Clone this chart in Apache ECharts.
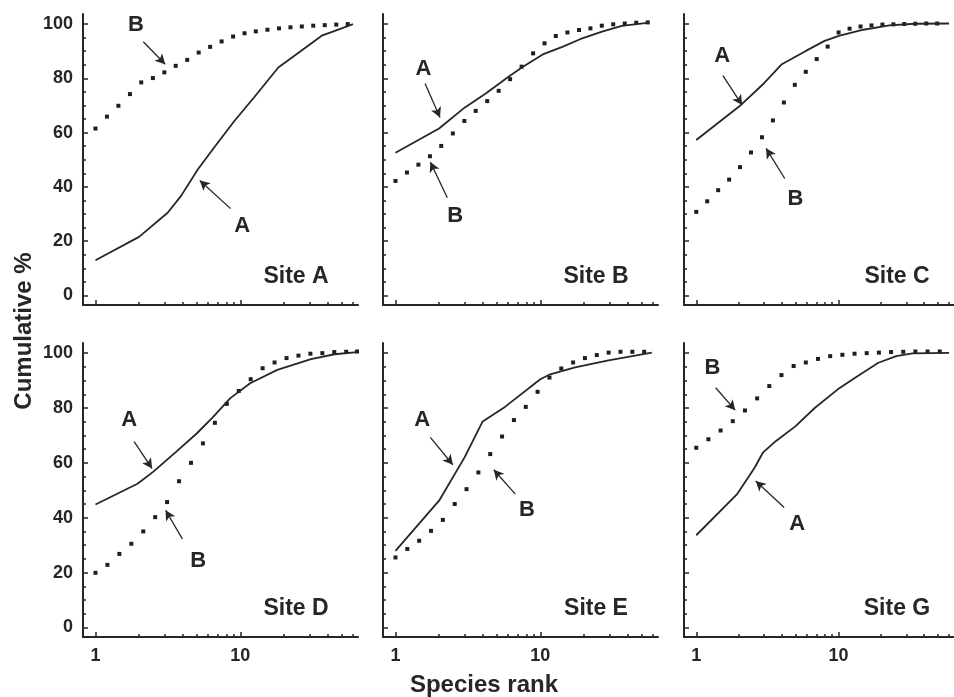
<!DOCTYPE html>
<html><head><meta charset="utf-8">
<script src="https://cdn.jsdelivr.net/npm/echarts@6/dist/echarts.min.js"></script>
<style>html,body{margin:0;padding:0;background:#fff}#c{width:954px;height:697px}</style>
</head><body><div id="c"></div>
<script>
// ---------- data ----------
const siteNames = ['Site A', 'Site B', 'Site C', 'Site D', 'Site E', 'Site G'];
const xTickValues = [1, 2, 3, 4, 5, 6, 7, 8, 9, 10, 20, 30, 40, 50, 60];
const xLabelValues = [1, 10];
const yTickValues = [0, 5, 10, 15, 20, 25, 30, 35, 40, 45, 50, 55, 60, 65, 70, 75, 80, 85, 90, 95, 100];
const yLabelValues = [0, 20, 40, 60, 80, 100];

// Site A
const siteA_rankA = [1, 2, 3.15, 3.9, 5.1, 6.6, 9.1, 12.6, 18.3, 25.8, 36.5, 45, 60];
const siteA_cumA  = [13.0, 21.6, 30.5, 36.7, 46.5, 54.5, 64.3, 73.3, 84.0, 89.8, 95.7, 97.5, 100];
const siteA_rankB = [1, 1.2, 1.44, 1.73, 2.07, 2.49, 2.99, 3.58, 4.3, 5.16, 6.19, 7.43, 8.92, 10.7, 12.8, 15.4, 18.5, 22.2, 26.6, 31.9, 38.3, 46, 55.2];
const siteA_cumB  = [61.5, 65.9, 69.9, 74.2, 78.5, 80.1, 82.2, 84.6, 86.8, 89.5, 91.6, 93.6, 95.4, 96.6, 97.3, 97.9, 98.4, 98.8, 99.1, 99.4, 99.6, 99.8, 100];
// Site B
const siteB_rankA = [1, 2, 3, 4.2, 6.1, 7.6, 10.4, 14.2, 19, 26.7, 36.6, 56.7];
const siteB_cumA  = [52.6, 61.5, 69.2, 74.4, 80.8, 84.3, 88.8, 91.6, 94.5, 97.2, 99.3, 100.5];
const siteB_rankB = [1, 1.2, 1.44, 1.73, 2.07, 2.49, 2.99, 3.58, 4.3, 5.16, 6.19, 7.43, 8.92, 10.7, 12.8, 15.4, 18.5, 22.2, 26.6, 31.9, 38.3, 46, 55.2];
const siteB_cumB  = [42.2, 45.3, 48.2, 51.3, 55.1, 59.7, 64.3, 68.0, 71.6, 75.4, 79.7, 84.3, 89.2, 92.9, 95.6, 96.9, 97.8, 98.4, 99.4, 99.9, 100.2, 100.5, 100.6];
// Site C
const siteC_rankA = [1, 2, 3, 4, 5.9, 8, 10.2, 15, 22.8, 34.5, 60];
const siteC_cumA  = [57.3, 69.6, 78.2, 85.2, 90.1, 93.8, 95.7, 97.9, 99.5, 100.1, 100.2];
const siteC_rankB = [1, 1.194, 1.426, 1.703, 2.033, 2.428, 2.899, 3.461, 4.133, 4.935, 5.893, 7.036, 8.401, 10.03, 11.98, 14.3, 17.08, 20.39, 24.35, 29.07, 34.71, 41.45, 49.49];
const siteC_cumB  = [30.8, 34.7, 38.8, 42.7, 47.3, 52.7, 58.3, 64.5, 71.1, 77.6, 82.4, 87.1, 91.7, 96.9, 98.3, 99.1, 99.5, 99.8, 99.9, 100, 100.1, 100.2, 100.2];
// Site D
const siteD_rankA = [1, 1.95, 2.5, 3.6, 5, 6.5, 8.5, 11.7, 18, 30.8, 44.8, 64];
const siteD_cumA  = [44.8, 52.4, 56.7, 64.0, 70.7, 76.8, 83.5, 89.0, 93.9, 97.8, 99.6, 100.4];
const siteD_rankB = [1, 1.209, 1.462, 1.768, 2.137, 2.584, 3.124, 3.777, 4.567, 5.521, 6.676, 8.07, 9.76, 11.8, 14.27, 17.25, 20.86, 25.22, 30.49, 36.86, 44.57, 53.88, 64];
const siteD_cumB  = [19.9, 22.8, 26.8, 30.5, 35.0, 40.2, 45.7, 53.3, 60.0, 67.1, 74.6, 81.5, 86.2, 90.5, 94.5, 96.6, 98.2, 99.1, 99.8, 100, 100.4, 100.5, 100.6];
// Site E
const siteE_rankA = [1, 2, 3, 4, 5.7, 10, 11.7, 17.4, 29.6, 58.9];
const siteE_cumA  = [27.9, 46.2, 62.0, 75.1, 80.4, 90.5, 92.3, 94.8, 97.4, 100.2];
const siteE_rankB = [1, 1.207, 1.457, 1.759, 2.124, 2.564, 3.095, 3.737, 4.511, 5.446, 6.574, 7.936, 9.58, 11.57, 13.96, 16.85, 20.34, 24.56, 29.65, 35.79, 43.21, 52.16];
const siteE_cumB  = [25.5, 28.6, 31.6, 35.2, 39.2, 45.0, 50.4, 56.5, 63.2, 69.6, 75.6, 80.4, 85.9, 91.1, 94.4, 96.6, 98.2, 99.3, 100.2, 100.5, 100.5, 100.5];
// Site G
const siteG_rankA = [1, 1.93, 2.58, 2.94, 3.64, 5, 6.84, 9.9, 13.6, 19.1, 25.5, 33.2, 60];
const siteG_cumA  = [33.6, 48.5, 58.3, 63.7, 68.0, 73.4, 80.1, 86.8, 91.6, 96.5, 98.9, 99.9, 100.1];
const siteG_rankB = [1, 1.218, 1.483, 1.807, 2.2, 2.68, 3.264, 3.976, 4.842, 5.898, 7.184, 8.75, 10.66, 12.98, 15.81, 19.26, 23.45, 28.57, 34.79, 42.38, 51.6];
const siteG_cumB  = [65.5, 68.6, 71.8, 75.2, 79.1, 83.5, 88.0, 92.0, 95.3, 96.6, 97.9, 98.9, 99.4, 99.8, 100, 100.2, 100.4, 100.5, 100.6, 100.6, 100.6];

// annotation letters [text, rank, cum] and arrows [fromRank, fromCum, toRank, toCum]
const letterNotes = [
  [['B', 1.90, 99.6], ['A', 10.3, 25.8]],
  [['A', 1.56, 83.6], ['B', 2.58, 29.2]],
  [['A', 1.52, 88.1], ['B', 4.98, 35.7]],
  [['A', 1.71, 75.6], ['B', 5.12, 24.4]],
  [['A', 1.53, 75.7], ['B', 8.09, 42.8]],
  [['B', 1.30, 94.7], ['A', 5.12, 37.6]]
];
const arrowNotes = [
  [[2.14, 93.5, 3.03, 85.2], [8.57, 32.0, 5.25, 42.4]],
  [[1.60, 78.1, 2.03, 65.6], [2.28, 36.0, 1.74, 49.2]],
  [[1.54, 81.0, 2.10, 70.2], [4.19, 43.1, 3.10, 54.2]],
  [[1.85, 67.7, 2.46, 57.9], [3.98, 32.3, 3.05, 42.7]],
  [[1.74, 69.3, 2.49, 59.3], [6.72, 48.6, 4.77, 57.5]],
  [[1.37, 87.4, 1.88, 79.2], [4.15, 43.7, 2.62, 53.4]]
];

const panelLines = [
  [siteA_rankA, siteA_cumA, siteA_rankB, siteA_cumB],
  [siteB_rankA, siteB_cumA, siteB_rankB, siteB_cumB],
  [siteC_rankA, siteC_cumA, siteC_rankB, siteC_cumB],
  [siteD_rankA, siteD_cumA, siteD_rankB, siteD_cumB],
  [siteE_rankA, siteE_cumA, siteE_rankB, siteE_cumB],
  [siteG_rankA, siteG_cumA, siteG_rankB, siteG_cumB]
];

// ---------- layout & style ----------
const INK = '#262626';
const FONT = '"Liberation Sans", Arial, sans-serif';
const colLeft = [83, 383, 684];
const rowTop = [14, 343];
const rowH = [291, 294];
const panelW = 275;
const X_MIN = 0.82, X_MAX = 65, Y_MIN = -3.5, Y_MAX = 103.7;

const zip = (xs, ys) => xs.map((x, i) => [x, ys[i]]);

const grid = [], xAxis = [], yAxis = [], series = [], graphic = [];

siteNames.forEach((name, i) => {
  const row = Math.floor(i / 3), col = i % 3;
  const left = colLeft[col], top = rowTop[row], h = rowH[row];
  grid.push({ left: left, top: top, width: panelW, height: h, containLabel: false });
  const ax = 2 * i;
  const showX = row === 1, showY = col === 0;
  // main x axis
  xAxis.push({
    type: 'log', gridIndex: i, position: 'bottom', offset: 0, min: X_MIN, max: X_MAX, logBase: 10,
    axisLine: { show: true, onZero: false, lineStyle: { color: INK, width: 2 } },
    axisTick: { show: true, inside: true, length: 3, customValues: xTickValues, lineStyle: { color: INK, width: 1.5 } },
    axisLabel: { show: showX, customValues: xLabelValues, margin: 10, color: INK, fontFamily: FONT, fontWeight: 'bold', fontSize: 18 },
    splitLine: { show: false }, minorTick: { show: false }
  });
  // major tick x axis (same position)
  xAxis.push({
    type: 'log', gridIndex: i, position: 'bottom', offset: 0, min: X_MIN, max: X_MAX, logBase: 10,
    axisLine: { show: false, onZero: false },
    axisTick: { show: true, inside: true, length: 5, customValues: xLabelValues, lineStyle: { color: INK, width: 1.5 } },
    axisLabel: { show: false }, splitLine: { show: false }
  });
  yAxis.push({
    type: 'value', gridIndex: i, position: 'left', offset: 0, min: Y_MIN, max: Y_MAX,
    axisLine: { show: true, onZero: false, lineStyle: { color: INK, width: 2 } },
    axisTick: { show: true, inside: true, length: 3, customValues: yTickValues, lineStyle: { color: INK, width: 1.5 } },
    axisLabel: { show: showY, customValues: yLabelValues, margin: 10, color: INK, fontFamily: FONT, fontWeight: 'bold', fontSize: 18 },
    splitLine: { show: false }
  });
  yAxis.push({
    type: 'value', gridIndex: i, position: 'left', offset: 0, min: Y_MIN, max: Y_MAX,
    axisLine: { show: false, onZero: false },
    axisTick: { show: true, inside: true, length: 5, customValues: yLabelValues, lineStyle: { color: INK, width: 1.5 } },
    axisLabel: { show: false }, splitLine: { show: false }
  });

  const [rA, cA, rB, cB] = panelLines[i];
  series.push({
    name: name + ' A', type: 'line', xAxisIndex: ax, yAxisIndex: ax,
    data: zip(rA, cA), showSymbol: false, symbol: 'none', smooth: false,
    lineStyle: { color: INK, width: 1.8 }, silent: true, animation: false,
    markLine: {
      silent: true, animation: false, symbol: ['none', 'arrow'], symbolSize: [8, 10],
      lineStyle: { color: INK, width: 1.3, type: 'solid' }, label: { show: false },
      data: arrowNotes[i].map(a => [{ coord: [a[0], a[1]] }, { coord: [a[2], a[3]] }])
    },
    markPoint: {
      silent: true, animation: false, symbol: 'circle', symbolSize: 1,
      itemStyle: { color: 'rgba(0,0,0,0)' },
      label: { show: true, position: 'inside', formatter: '{b}', color: INK, fontFamily: FONT, fontWeight: 'bold', fontSize: 22 },
      data: letterNotes[i].map(l => ({ name: l[0], coord: [l[1], l[2]] }))
    }
  });
  series.push({
    name: name + ' B', type: 'scatter', xAxisIndex: ax, yAxisIndex: ax,
    data: zip(rB, cB), symbol: 'rect', symbolSize: 4,
    itemStyle: { color: '#1e1e1e', opacity: 1 }, silent: true, animation: false
  });
  graphic.push({
    type: 'text', x: left + 213, y: top + h - 28,
    style: { text: name, align: 'center', verticalAlign: 'middle', fill: INK, font: 'bold 23px ' + FONT }
  });
});

graphic.push({
  type: 'text', x: 24, y: 331, rotation: Math.PI / 2,
  style: { text: 'Cumulative %', align: 'center', verticalAlign: 'middle', fill: INK, font: 'bold 24px ' + FONT }
});
graphic.push({
  type: 'text', x: 484, y: 685,
  style: { text: 'Species rank', align: 'center', verticalAlign: 'middle', fill: INK, font: 'bold 24px ' + FONT }
});

const chart = echarts.init(document.getElementById('c'), null, { renderer: 'canvas', width: 954, height: 697 });
chart.setOption({
  backgroundColor: '#ffffff', animation: false,
  grid: grid, xAxis: xAxis, yAxis: yAxis, series: series, graphic: graphic
});
</script></body></html>
